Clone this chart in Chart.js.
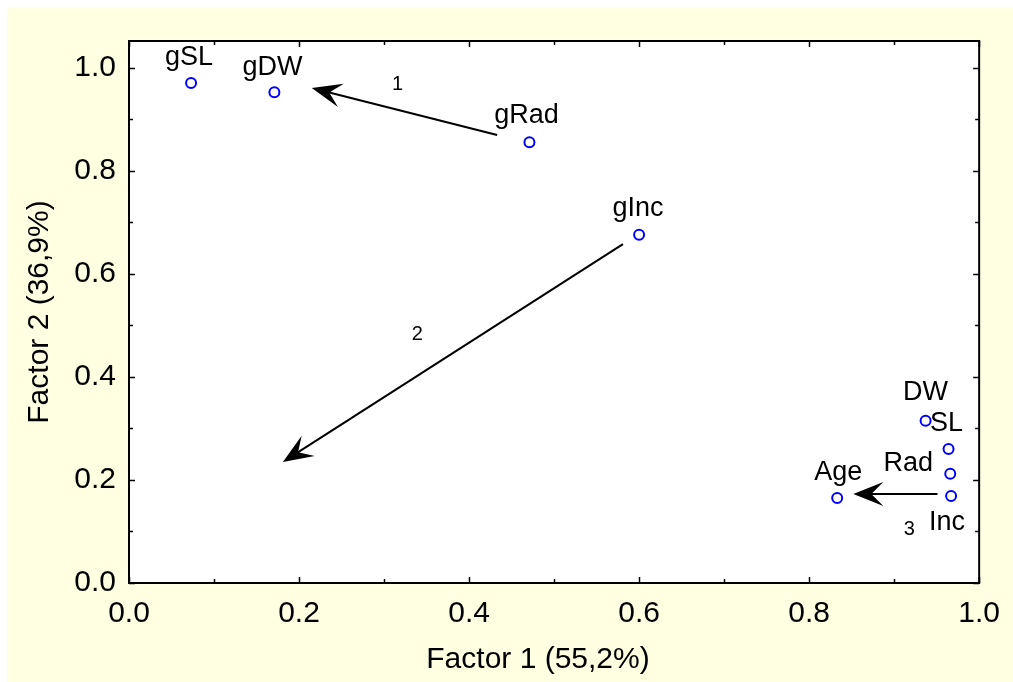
<!DOCTYPE html>
<html>
<head>
<meta charset="UTF-8">
<title>Factor loadings</title>
<script src="https://cdn.jsdelivr.net/npm/chart.js"></script>
<style>
  body { margin: 0; background: #ffffff; }
  .frame { position: absolute; left: 7px; top: 7px; width: 1006px; height: 675px; background: #ffffe1; }
  .box { position: absolute; left: 0; top: 0; width: 1013px; height: 682px; }
</style>
</head>
<body>
<div class="frame"></div>
<div class="box"><canvas id="chart" width="1013" height="682"></canvas></div>
<script>
// variable names and their loadings on factor 1 / factor 2
const names   = ["gSL", "gDW", "gRad", "gInc", "DW", "SL", "Rad", "Inc", "Age"];
const factor1 = [0.073, 0.171, 0.471, 0.600, 0.937, 0.964, 0.966, 0.967, 0.833];
const factor2 = [0.971, 0.953, 0.856, 0.676, 0.315, 0.260, 0.212, 0.169, 0.165];

// arrows (start -> tip) in factor coordinates, with their numbers
const arrowNames = ["1", "2", "3"];
const arrowFromX = [0.433, 0.581, 0.951];
const arrowFromY = [0.870, 0.658, 0.173];
const arrowToX   = [0.215, 0.181, 0.852];
const arrowToY   = [0.961, 0.235, 0.173];
const arrowLabelX = [0.316, 0.339, 0.918];
const arrowLabelY = [0.967, 0.483, 0.103];

const xTicks = [0.0, 0.2, 0.4, 0.6, 0.8, 1.0];
const yTicks = [0.0, 0.2, 0.4, 0.6, 0.8, 1.0];
const xMinor = [0.1, 0.3, 0.5, 0.7, 0.9];
const yMinor = [0.1, 0.3, 0.5, 0.7, 0.9];

const xTitle = 'Factor 1 (55,2%)';
const yTitle = 'Factor 2 (36,9%)';

// label placement around the points (pixels)
const labelShift = {
  gSL: [-2, -25], gDW: [-2, -25], gRad: [-3, -27], gInc: [-1, -26],
  DW: [0, -28], SL: [-2, -26], Rad: [-42, -10], Inc: [-4, 27], Age: [1, -25]
};

const FONT = "'Liberation Sans', Arial, sans-serif";

const points = names.map((n, i) => ({ x: factor1[i], y: factor2[i], name: n }));

const framePlugin = {
  id: 'frame',
  beforeDatasetsDraw(chart) {
    const { ctx, chartArea: a } = chart;
    ctx.save();
    ctx.fillStyle = '#ffffff';
    ctx.fillRect(a.left, a.top, a.right - a.left, a.bottom - a.top);
    ctx.restore();
  },
  afterDatasetsDraw(chart) {
    const { ctx, chartArea: a, scales } = chart;
    const sx = scales.x, sy = scales.y;
    ctx.save();

    // arrows
    ctx.strokeStyle = '#000';
    ctx.fillStyle = '#000';
    ctx.lineWidth = 2;
    arrowNames.forEach((lab, i) => {
      const x0 = sx.getPixelForValue(arrowFromX[i]), y0 = sy.getPixelForValue(arrowFromY[i]);
      const x1 = sx.getPixelForValue(arrowToX[i]), y1 = sy.getPixelForValue(arrowToY[i]);
      const len = Math.hypot(x0 - x1, y0 - y1);
      const ux = (x0 - x1) / len, uy = (y0 - y1) / len;
      const nx = -uy, ny = ux;
      const L = 30, W = 12;
      ctx.beginPath();
      ctx.moveTo(x0, y0);
      ctx.lineTo(x1 + ux * L * 0.5, y1 + uy * L * 0.5);
      ctx.stroke();
      ctx.beginPath();
      ctx.moveTo(x1, y1);
      ctx.lineTo(x1 + ux * L + nx * W, y1 + uy * L + ny * W);
      ctx.lineTo(x1 + ux * L * 0.6, y1 + uy * L * 0.6);
      ctx.lineTo(x1 + ux * L - nx * W, y1 + uy * L - ny * W);
      ctx.closePath();
      ctx.fill();

      ctx.font = '20px ' + FONT;
      ctx.textAlign = 'center';
      ctx.textBaseline = 'middle';
      ctx.fillText(lab, sx.getPixelForValue(arrowLabelX[i]), sy.getPixelForValue(arrowLabelY[i]));
    });

    // point labels
    ctx.font = '27px ' + FONT;
    ctx.textAlign = 'center';
    ctx.textBaseline = 'middle';
    points.forEach(p => {
      const s = labelShift[p.name] || [0, -26];
      ctx.fillText(p.name, sx.getPixelForValue(p.x) + s[0], sy.getPixelForValue(p.y) + s[1]);
    });

    // border with inward ticks on all four sides
    ctx.lineWidth = 2;
    ctx.strokeStyle = '#000';
    ctx.strokeRect(a.left, a.top, a.right - a.left, a.bottom - a.top);
    ctx.lineWidth = 1.5;
    ctx.beginPath();
    const tickX = (v, len) => {
      const px = Math.round(sx.getPixelForValue(v)) + 0.5;
      ctx.moveTo(px, a.bottom); ctx.lineTo(px, a.bottom - len);
      ctx.moveTo(px, a.top); ctx.lineTo(px, a.top + len);
    };
    const tickY = (v, len) => {
      const py = Math.round(sy.getPixelForValue(v)) + 0.5;
      ctx.moveTo(a.left, py); ctx.lineTo(a.left + len, py);
      ctx.moveTo(a.right, py); ctx.lineTo(a.right - len, py);
    };
    xTicks.forEach(v => tickX(v, 6));
    xMinor.forEach(v => tickX(v, 4));
    yTicks.forEach(v => tickY(v, 6));
    yMinor.forEach(v => tickY(v, 4));
    ctx.stroke();

    // axis titles
    ctx.font = '30px ' + FONT;
    ctx.fillStyle = '#000';
    ctx.textAlign = 'center';
    ctx.textBaseline = 'middle';
    ctx.fillText(xTitle, 538, 660);
    ctx.translate(40, 312);
    ctx.rotate(-Math.PI / 2);
    ctx.fillText(yTitle, 0, 0);
    ctx.restore();
  }
};

new Chart(document.getElementById('chart'), {
  type: 'scatter',
  data: {
    datasets: [{
      data: points,
      pointStyle: 'circle',
      pointRadius: 5,
      pointHoverRadius: 5,
      pointBorderWidth: 2,
      pointBorderColor: '#0000ff',
      pointBackgroundColor: 'rgba(0,0,0,0)'
    }]
  },
  options: {
    responsive: false,
    animation: false,
    layout: { padding: { left: 0, top: 41, right: 32, bottom: 0 } },
    plugins: { legend: { display: false }, tooltip: { enabled: false } },
    scales: {
      x: {
        type: 'linear', min: 0, max: 1.0,
        grid: { display: false, drawTicks: false }, border: { display: false },
        afterBuildTicks: s => { s.ticks = xTicks.map(v => ({ value: v })); },
        afterFit: s => { s.height = 99; },
        ticks: { color: '#000', padding: 13, font: { family: FONT, size: 30 }, callback: v => v.toFixed(1) }
      },
      y: {
        type: 'linear', min: 0, max: 1.0524,
        grid: { display: false, drawTicks: false }, border: { display: false },
        afterBuildTicks: s => { s.ticks = yTicks.map(v => ({ value: v })); },
        afterFit: s => { s.width = 129; },
        ticks: { color: '#000', padding: 13, font: { family: FONT, size: 30 }, callback: v => v.toFixed(1) }
      }
    }
  },
  plugins: [framePlugin]
});
</script>
</body>
</html>
